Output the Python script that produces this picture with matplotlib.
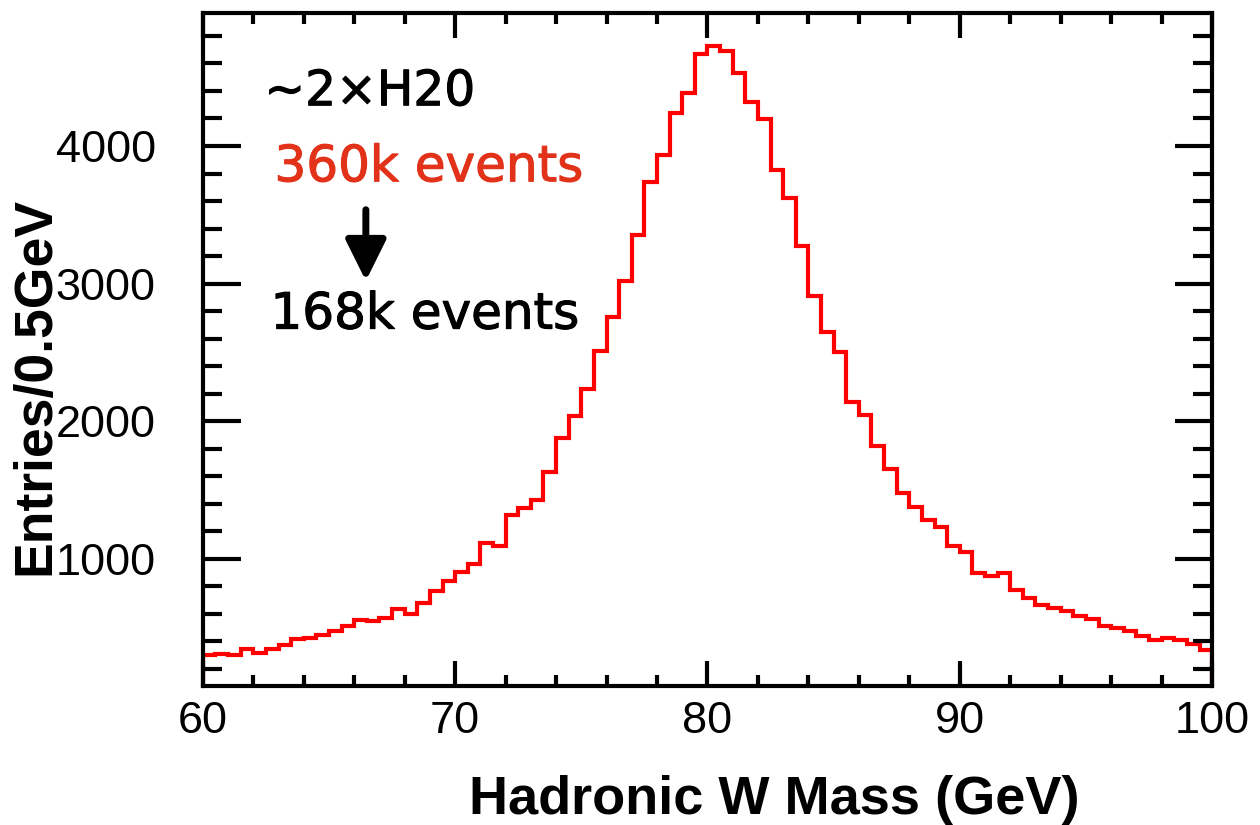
import numpy as np
import matplotlib
matplotlib.use("Agg")
from matplotlib import pyplot as plt
from matplotlib import patheffects as pe
from matplotlib.ticker import MultipleLocator

# 80 bins of 0.5 GeV from 60 to 100 GeV
edges = np.arange(60.0, 100.01, 0.5)
counts = [304, 311, 304, 348, 313, 348, 372, 415, 425, 444,
          478, 512, 556, 551, 570, 638, 601, 681, 763, 836,
          904, 964, 1116, 1096, 1319, 1370, 1426, 1628, 1875, 2039,
          2232, 2507, 2759, 3017, 3355, 3741, 3937, 4237, 4382, 4672,
          4727, 4688, 4531, 4321, 4193, 3823, 3620, 3275, 2908, 2645,
          2505, 2143, 2046, 1821, 1650, 1478, 1380, 1285, 1232, 1092,
          1053, 896, 872, 896, 770, 715, 667, 643, 618, 585,
          560, 512, 498, 473, 440, 408, 425, 408, 384, 336]

x_label = "Hadronic W Mass (GeV)"
y_label = "Entries/0.5GeV"

fig = plt.figure(figsize=(12.6, 8.25), dpi=100)
ax = fig.add_axes([0.161, 0.1685, 0.801, 0.8155])

ax.stairs(counts, edges, baseline=0, color="#ff0000", linewidth=3.0)

ax.set_xlim(60, 100)
ax.set_ylim(76, 4965)

ax.xaxis.set_major_locator(MultipleLocator(10))
ax.xaxis.set_minor_locator(MultipleLocator(2))
ax.yaxis.set_major_locator(MultipleLocator(1000))
ax.yaxis.set_minor_locator(MultipleLocator(200))

ax.tick_params(which="both", direction="in", top=True, right=True, width=3)
ax.tick_params(axis="x", which="major", length=18, pad=11)
ax.tick_params(axis="x", which="minor", length=8)
ax.tick_params(axis="y", which="major", length=27, pad=34)
ax.tick_params(axis="y", which="minor", length=14)
for s in ax.spines.values():
    s.set_linewidth(3)

for lab in ax.get_xticklabels() + ax.get_yticklabels():
    lab.set_family("Liberation Sans")
    lab.set_fontsize(32.5)

ax.set_xlabel(x_label, fontsize=39, family="Liberation Sans", weight="bold", ha="right")
ax.xaxis.set_label_coords(0.869, -0.133)
ax.set_ylabel(y_label, fontsize=38.5, family="Liberation Sans", weight="bold")
ax.yaxis.set_label_coords(-0.141, 0.446)

# annotations (slightly thickened to look like a medium weight)
def thick(c):
    return [pe.withStroke(linewidth=0.8, foreground=c)]

ax.text(0.061, 0.884, "~2\u00d7H20", transform=ax.transAxes, fontsize=35,
        family="DejaVu Sans", va="center", ha="left", path_effects=thick("black"))
ax.text(0.071, 0.771, "360k events", transform=ax.transAxes, fontsize=36,
        family="DejaVu Sans", color="#e2321a", va="center", ha="left",
        path_effects=thick("#e2321a"))
ax.annotate("", xy=(0.1615, 0.598), xytext=(0.1615, 0.712), xycoords="axes fraction",
            arrowprops=dict(arrowstyle="-|>,head_width=0.62,head_length=1.25",
                            mutation_scale=20, color="black", lw=5))
ax.text(0.067, 0.552, "168k events", transform=ax.transAxes, fontsize=36,
        family="DejaVu Sans", va="center", ha="left", path_effects=thick("black"))

plt.savefig("out.png", dpi=100)
